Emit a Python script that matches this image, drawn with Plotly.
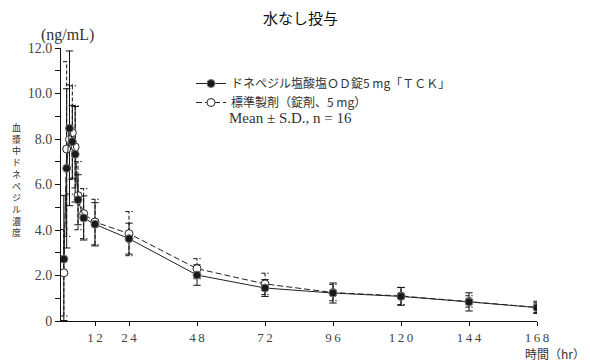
import plotly.graph_objects as go

# ---- data ----
times = [1, 2, 3, 4, 5, 6, 8, 12, 24, 48, 72, 96, 120, 144, 168]
tck_mean = [2.72, 6.71, 8.47, 7.88, 7.33, 5.33, 4.53, 4.25, 3.62, 2.02, 1.45, 1.23, 1.08, 0.84, 0.59]
tck_sd = [2.8, 3.5, 3.4, 1.6, 2.1, 1.1, 0.97, 0.95, 0.68, 0.45, 0.37, 0.44, 0.39, 0.40, 0.21]
ref_mean = [2.12, 7.56, 7.98, 8.28, 7.65, 5.51, 4.72, 4.35, 3.84, 2.30, 1.63, 1.25, 1.10, 0.86, 0.60]
ref_sd = [1.9, 3.84, 2.4, 2.06, 1.8, 1.5, 1.1, 1.0, 0.97, 0.44, 0.47, 0.36, 0.38, 0.25, 0.27]
xticks = [12, 24, 48, 72, 96, 120, 144, 168]
xlabels = ["1\u20092", "2\u20094", "4\u20098", "7\u20092", "9\u20096",
           "1\u20092\u20090", "1\u20094\u20094", "1\u20096\u20098"]
yticks = list(range(0, 13))
ylabels = ["0", "", "2.0", "", "4.0", "", "6.0", "", "8.0", "", "10.0", "", "12.0"]
name_tck = "ドネペジル塩酸塩ＯＤ錠5 mg「ＴＣＫ」"
name_ref = "標準製剤（錠剤、5 mg）"
stats_text = "Mean ± S.D., n = 16"
title_text = "水なし投与"
ytitle_chars = list("血漿中ドネペジル濃度")

SERIF = "Liberation Serif, DejaVu Serif, serif"
JP = "Noto Sans CJK JP"
TXT = "#333333"

# page has an 8px body margin; plot area in reference pixels is x 61..537, y 48..321
OFF = 8
X0, X1, Y0, Y1 = 61, 537, 48, 321
W, H = 590 - OFF, 364 - OFF
L, R, T, B = X0 - OFF, 590 - X1, Y0 - OFF, 364 - Y1
PW, PH = X1 - X0, Y1 - Y0


def px(x):
    return (x - X0) / PW


def py(y):
    return (Y1 - y) / PH


fig = go.Figure()

cap = 1.3


def bars(means, sds):
    bx, by = [], []
    for t, m, s in zip(times, means, sds):
        lo, hi = max(m - s, 0.02), m + s
        bx += [t, t, None, t - cap, t + cap, None, t - cap, t + cap, None]
        by += [lo, hi, None, lo, lo, None, hi, hi, None]
    return bx, by


ex, ey = bars(ref_mean, ref_sd)
fig.add_trace(go.Scatter(x=ex, y=ey, mode="lines", showlegend=False, hoverinfo="skip",
                         line=dict(color="#111111", width=1, dash="4px,2px")))
fx, fy = bars(tck_mean, tck_sd)
fig.add_trace(go.Scatter(x=fx, y=fy, mode="lines", showlegend=False, hoverinfo="skip",
                         line=dict(color="#111111", width=1)))

fig.add_trace(go.Scatter(
    x=times, y=ref_mean, mode="lines+markers", name=name_ref, legendrank=2,
    line=dict(color="#222222", width=1, dash="6px,3px"),
    marker=dict(symbol="circle", size=8, color="white", line=dict(color="#222222", width=1)),
))
fig.add_trace(go.Scatter(
    x=times, y=tck_mean, mode="lines+markers", name=name_tck, legendrank=1,
    line=dict(color="#222222", width=1),
    marker=dict(symbol="circle", size=8, color="#1a1a1a", line=dict(color="#777777", width=1)),
))


def note(text, x, y, xa, font, ya="middle", **kw):
    return dict(text=text, x=px(x), y=py(y), xref="paper", yref="paper",
                xanchor=xa, yanchor=ya, font=font, showarrow=False, **kw)


ann = [
    note(title_text, 300, 18, "center", dict(family=JP, size=15, color="#111111")),
    note("(ng/mL)", 67, 35, "center", dict(family=SERIF, size=16, color=TXT)),
    note("時間（hr）", 587, 353, "right", dict(family=JP, size=12, color=TXT)),
    note(stats_text, 227, 118, "left", dict(family=SERIF, size=15, color=TXT)),
    note("<br>".join(ytitle_chars), 16, 180, "center", dict(family=JP, size=9, color=TXT)),
]

fig.update_layout(
    width=W, height=H,
    margin=dict(l=L, r=R, t=T, b=B, autoexpand=False),
    paper_bgcolor="white", plot_bgcolor="white",
    showlegend=True,
    legend=dict(x=px(191), y=py(69), xanchor="left", yanchor="top",
                font=dict(family=JP, size=12, color=TXT),
                bgcolor="rgba(0,0,0,0)", tracegroupgap=0, itemwidth=30),
    annotations=ann,
    xaxis=dict(range=[0, 168], tickvals=xticks, ticktext=xlabels,
               showline=True, linecolor="#111111", linewidth=1, ticks="outside",
               ticklen=4, tickcolor="#111111", showgrid=False, zeroline=False, automargin=False,
               tickfont=dict(family=SERIF, size=13, color="#444444")),
    yaxis=dict(range=[0, 12], tickvals=yticks, ticktext=ylabels,
               showline=True, linecolor="#111111", linewidth=1, ticks="outside",
               ticklen=5, tickcolor="#111111", showgrid=False, zeroline=False, automargin=False,
               tickfont=dict(family=SERIF, size=14, color="#444444")),
)

fig.write_html("out.html")
